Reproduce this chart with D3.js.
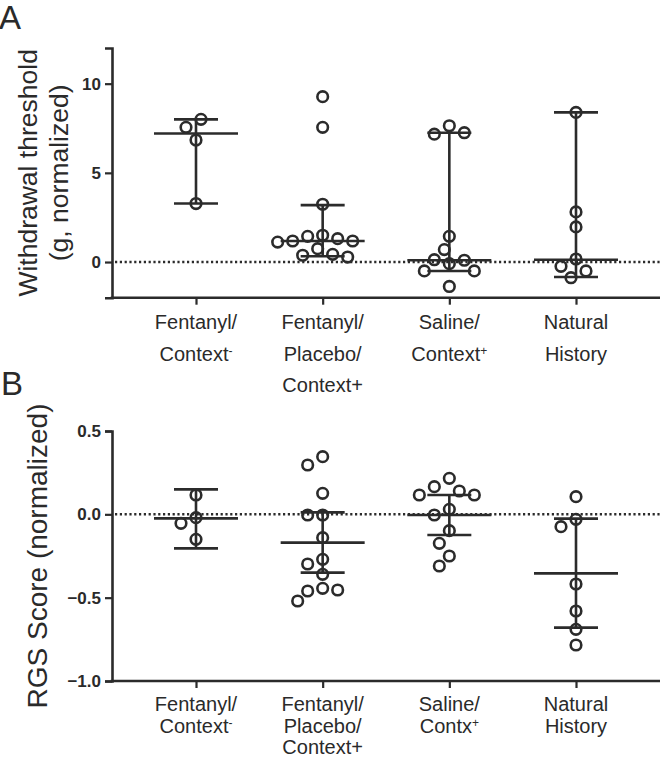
<!DOCTYPE html>
<html>
<head>
<meta charset="utf-8">
<script src="https://cdn.jsdelivr.net/npm/d3@7"></script>
<style>
  html, body { margin: 0; padding: 0; background: #fff; }
  svg { display: block; }
  text { font-family: "Liberation Sans", Arial, Helvetica, sans-serif; fill: #2a2a2a; }
</style>
</head>
<body>
<svg id="chart" width="662" height="759"></svg>
<script>
// ---------------- DATA ----------------
const groups = ["Fentanyl/Context-", "Fentanyl/Placebo/Context+", "Saline/Context+", "Natural History"];

// x-axis label lines ("^" marks a superscript)
const labelsA = [["Fentanyl/", "Context^-"], ["Fentanyl/", "Placebo/", "Context+"], ["Saline/", "Context^+"], ["Natural", "History"]];
const labelsB = [["Fentanyl/", "Context^-"], ["Fentanyl/", "Placebo/", "Context+"], ["Saline/", "Contx^+"], ["Natural", "History"]];

// Panel A: withdrawal threshold (g, normalized)
const withdrawal = [
  [6.84, 3.28, 7.55, 8.0],
  [9.27, 7.55, 3.24, 1.5, 1.44, 1.31, 1.18, 1.18, 1.12, 0.75, 0.43, 0.38, 0.28],
  [7.64, 7.17, 7.25, 1.44, 0.70, -0.09, 0.13, 0.10, -0.5, -0.5, -1.37],
  [8.39, 2.81, 1.97, 0.17, -0.24, -0.5, -0.88]
];
const withdrawalCenter = [7.21, 1.18, 0.10, 0.13];
const withdrawalLow    = [3.28, 0.32, -0.5, -0.84];
const withdrawalHigh   = [8.0, 3.19, 7.25, 8.39];
const ticksA = [0, 5, 10];

// Panel B: RGS score (normalized)
const rgs = [
  [0.116, -0.15, -0.02, -0.054],
  [0.346, 0.296, 0.126, -0.004, -0.004, -0.14, -0.27, -0.298, -0.36, -0.444, -0.46, -0.454, -0.52],
  [0.216, 0.166, 0.14, 0.116, 0.116, 0.03, -0.004, -0.098, -0.174, -0.25, -0.31],
  [0.106, -0.03, -0.074, -0.418, -0.58, -0.69, -0.784]
];
const rgsCenter = [-0.024, -0.17, -0.004, -0.354];
const rgsLow    = [-0.204, -0.35, -0.124, -0.68];
const rgsHigh   = [0.15, 0.012, 0.116, -0.026];
const ticksB = [-1.0, -0.5, 0.0, 0.5];

// ---------------- DRAW ----------------
const svg = d3.select("#chart");
const ink = "#2b2b2b";
const axisX = 112, rightEnd = 660;

const x = d3.scalePoint().domain(groups).range([196, 576]);

function swarm(vals, y) {
  // simple deterministic beeswarm: candidates 0, -s, +s, -2s, ...
  const placed = [], s = 5, dmin = 14;
  vals.forEach(v => {
    const py = y(v);
    for (let k = 0; k < 40; k++) {
      const off = k === 0 ? 0 : (k % 2 ? -1 : 1) * Math.ceil(k / 2) * s;
      const ok = placed.every(p => Math.hypot(p.dx - off, p.py - py) >= dmin);
      if (ok) { placed.push({v, py, dx: off}); break; }
    }
  });
  return placed;
}

function panel(cfg) {
  const g = svg.append("g");
  const y = d3.scaleLinear().domain(cfg.domain).range(cfg.range);

  // dotted zero line
  g.append("line")
    .attr("x1", axisX + 3).attr("x2", rightEnd)
    .attr("y1", y(0)).attr("y2", y(0))
    .attr("stroke", ink).attr("stroke-width", 2.5)
    .attr("stroke-dasharray", "2.2,2.6");

  // y axis
  const ya = g.append("g").attr("transform", `translate(${axisX},0)`)
    .call(d3.axisLeft(y).tickValues(cfg.ticks).tickFormat(cfg.fmt).tickSizeOuter(0).tickSize(7).tickPadding(4));
  ya.select(".domain").attr("stroke", ink).attr("stroke-width", 2.6);
  ya.selectAll(".tick line").attr("stroke", ink).attr("stroke-width", 2.2);
  ya.selectAll(".tick text").attr("font-size", 17).attr("font-weight", "bold")
    .attr("font-family", "Liberation Sans, Arial, sans-serif").attr("fill", ink);

  // x axis
  const yb = cfg.range[0];
  g.append("line").attr("x1", axisX - 1.3).attr("x2", rightEnd)
    .attr("y1", yb).attr("y2", yb).attr("stroke", ink).attr("stroke-width", 2.6);
  const xa = g.append("g").attr("transform", `translate(0,${yb})`)
    .call(d3.axisBottom(x).tickSize(7).tickFormat(""));
  xa.select(".domain").remove();
  xa.selectAll(".tick line").attr("stroke", ink).attr("stroke-width", 2.2);

  // category labels
  groups.forEach((grp, i) => {
    cfg.labels[i].forEach((ln, j) => {
      const t = g.append("text").attr("x", x(grp)).attr("y", cfg.labelY + j * cfg.labelGap)
        .attr("text-anchor", "middle").attr("font-size", 20);
      const parts = ln.split("^");
      t.append("tspan").text(parts[0]);
      if (parts.length > 1) {
        t.append("tspan").attr("font-size", 12).attr("dy", -6).text(parts[1]);
      }
    });
  });

  // error bars
  groups.forEach((grp, i) => {
    const cx = x(grp);
    g.append("line").attr("x1", cx).attr("x2", cx)
      .attr("y1", y(cfg.low[i])).attr("y2", y(cfg.high[i]))
      .attr("stroke", ink).attr("stroke-width", 2.6);
    [cfg.low[i], cfg.high[i]].forEach(v => {
      g.append("line").attr("x1", cx - 22).attr("x2", cx + 22)
        .attr("y1", y(v)).attr("y2", y(v)).attr("stroke", ink).attr("stroke-width", 2.6);
    });
  });

  // points
  groups.forEach((grp, i) => {
    const pts = swarm(cfg.values[i], y);
    g.selectAll(null).data(pts).enter().append("circle")
      .attr("cx", d => x(grp) + d.dx).attr("cy", d => d.py).attr("r", 5.3)
      .attr("fill", "none").attr("stroke", ink).attr("stroke-width", 2.6);
  });

  // center line (drawn on top)
  groups.forEach((grp, i) => {
    const cx = x(grp);
    g.append("line").attr("x1", cx - 42).attr("x2", cx + 42)
      .attr("y1", y(cfg.center[i])).attr("y2", y(cfg.center[i]))
      .attr("stroke", ink).attr("stroke-width", 2.6);
  });

  // y title
  cfg.title.forEach((ln, j) => {
    g.append("text")
      .attr("transform", `translate(${cfg.titleX[j]},${(cfg.range[0] + cfg.range[1]) / 2}) rotate(-90)`)
      .attr("text-anchor", "middle").attr("font-size", cfg.titleSize).text(ln);
  });

  // panel letter
  g.append("text").attr("x", cfg.letterX).attr("y", cfg.letterY)
    .attr("font-size", 33).text(cfg.letter);
}

panel({
  domain: [-2, 12], range: [297.7, 48], ticks: ticksA, fmt: d3.format("d"),
  values: withdrawal, center: withdrawalCenter, low: withdrawalLow, high: withdrawalHigh,
  labels: labelsA, labelY: 329, labelGap: 31.5,
  title: ["Withdrawal threshold", "(g, normalized)"], titleX: [37, 68], titleSize: 26.5,
  letter: "A", letterX: -1, letterY: 29
});

panel({
  domain: [-1, 0.5], range: [681, 431], ticks: ticksB, fmt: d3.format(".1f"),
  values: rgs, center: rgsCenter, low: rgsLow, high: rgsHigh,
  labels: labelsB, labelY: 711, labelGap: 21.5,
  title: ["RGS Score (normalized)"], titleX: [47], titleSize: 28,
  letter: "B", letterX: 1, letterY: 395
});
</script>
</body>
</html>
